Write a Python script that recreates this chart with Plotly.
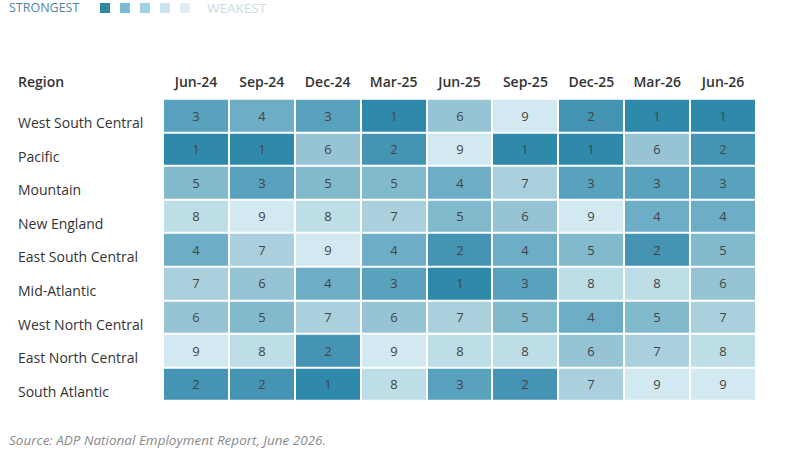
import plotly.graph_objects as go

regions = ["West South Central", "Pacific", "Mountain", "New England", "East South Central",
           "Mid-Atlantic", "West North Central", "East North Central", "South Atlantic"]
periods = ["Jun-24", "Sep-24", "Dec-24", "Mar-25", "Jun-25", "Sep-25", "Dec-25", "Mar-26", "Jun-26"]
ranks = [
    [3, 4, 3, 1, 6, 9, 2, 1, 1],
    [1, 1, 6, 2, 9, 1, 1, 6, 2],
    [5, 3, 5, 5, 4, 7, 3, 3, 3],
    [8, 9, 8, 7, 5, 6, 9, 4, 4],
    [4, 7, 9, 4, 2, 4, 5, 2, 5],
    [7, 6, 4, 3, 1, 3, 8, 8, 6],
    [6, 5, 7, 6, 7, 5, 4, 5, 7],
    [9, 8, 2, 9, 8, 8, 6, 7, 8],
    [2, 2, 1, 8, 3, 2, 7, 9, 9],
]
palette = ["#2f89ab", "#4594b3", "#59a2bd", "#6daec6", "#81b9cd",
           "#96c4d5", "#aad0de", "#bddde7", "#d2e9f1"]
legend_colors = ["#2e88a8", "#79bad6", "#a3d1e3", "#cbe5ee", "#dfedf3"]

colorscale = []
n = len(palette)
for i, c in enumerate(palette):
    colorscale.append([i / n, c])
    colorscale.append([(i + 1) / n, c])

fig = go.Figure(go.Heatmap(
    z=ranks, x=periods, y=regions,
    zmin=0.5, zmax=9.5, colorscale=colorscale, showscale=False,
    xgap=2, ygap=2,
    text=ranks, texttemplate="%{text}",
    textfont=dict(family="Open Sans", size=13, color="#444444"),
    hoverinfo="skip",
))

W, H = 788, 457
fig.update_layout(
    width=W, height=H,
    margin=dict(l=0, r=0, t=0, b=0),
    paper_bgcolor="white", plot_bgcolor="white",
    font=dict(family="Open Sans", color="#333333"),
    xaxis=dict(domain=[163 / W, 756 / W], side="top", showgrid=False, zeroline=False,
               ticks="", tickfont=dict(size=14, color="#333333", family="Open Sans", weight=600),
               ticklabelstandoff=6),
    yaxis=dict(domain=[(H - 401) / H, (H - 97) / H], autorange="reversed",
               showgrid=False, zeroline=False, showticklabels=False, ticks=""),
)

for r in regions:
    fig.add_annotation(x=16 / W, xref="paper", y=r, yref="y", text=r, showarrow=False,
                       xanchor="left", yanchor="middle", yshift=-7,
                       font=dict(size=14, color="#333333", family="Open Sans"))
fig.add_annotation(x=16 / W, xref="paper", y=1 - 82 / H, yref="paper", text="Region",
                   showarrow=False, xanchor="left", yanchor="middle",
                   font=dict(size=14, color="#333333", family="Open Sans", weight=600))

# top legend
fig.add_annotation(x=7 / W, xref="paper", y=1 - 8 / H, yref="paper", text="STRONGEST",
                   showarrow=False, xanchor="left", yanchor="middle",
                   font=dict(size=12.5, color="#4f86a3", family="Open Sans"))
fig.add_annotation(x=205 / W, xref="paper", y=1 - 8 / H, yref="paper", text="WEAKEST",
                   showarrow=False, xanchor="left", yanchor="middle",
                   font=dict(size=13.5, color="#c9dce6", family="Open Sans"))
for i, c in enumerate(legend_colors):
    x0 = 100 + 20 * i
    fig.add_shape(type="rect", xref="paper", yref="paper",
                  x0=x0 / W, x1=(x0 + 10) / W, y0=1 - 13 / H, y1=1 - 3 / H,
                  fillcolor=c, line=dict(width=0))

fig.add_annotation(x=7 / W, xref="paper", y=1 - 440 / H, yref="paper",
                   text="<i>Source: ADP National Employment Report, June 2026.</i>",
                   showarrow=False, xanchor="left", yanchor="middle",
                   font=dict(size=13.5, color="#8a8a8a", family="Open Sans"))

fig.write_html("out.html")
